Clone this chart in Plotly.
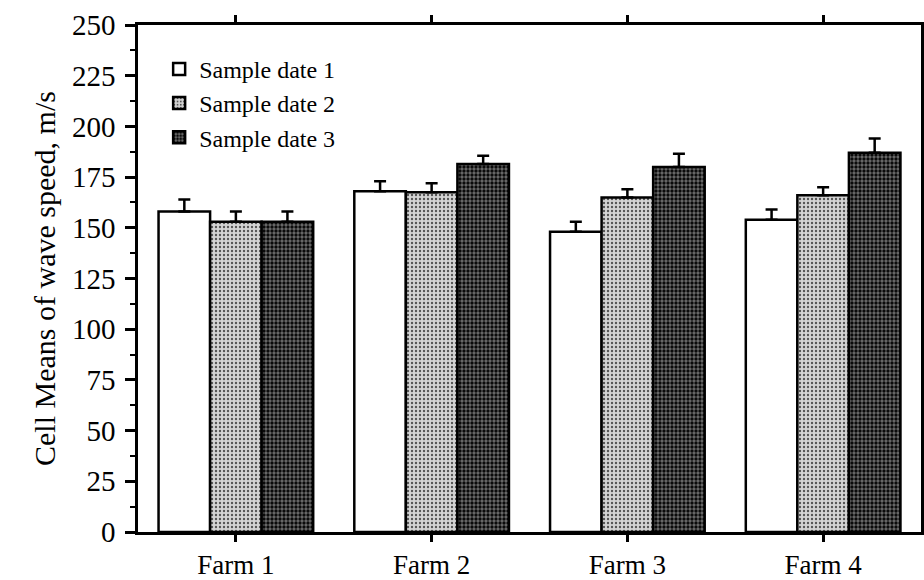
import plotly.graph_objects as go

farms = ["Farm 1", "Farm 2", "Farm 3", "Farm 4"]
series_names = ["Sample date 1", "Sample date 2", "Sample date 3"]
date1 = [158, 168, 148, 154]
date1_err = [6, 5, 5, 5]
date2 = [153, 167.5, 165, 166]
date2_err = [5, 4.5, 4, 4]
date3 = [153, 181.5, 180, 187]
date3_err = [5, 4, 6.5, 7]
y_ticks = [0, 25, 50, 75, 100, 125, 150, 175, 200, 225, 250]
y_title = "Cell Means of wave speed, m/s"

FONT = "Liberation Serif, Times New Roman, serif"

styles = [
    dict(color="white", pattern=None),
    dict(color="#c0c0c0", pattern=dict(shape=".", fgcolor="#555555", bgcolor="#d4d4d4", size=4, solidity=0.28, fillmode="replace")),
    dict(color="#3a3a3a", pattern=dict(shape=".", fgcolor="#0a0a0a", bgcolor="#6e6e6e", size=4, solidity=0.55, fillmode="replace")),
]

fig = go.Figure()
for name, vals, errs, st in zip(series_names, [date1, date2, date3], [date1_err, date2_err, date3_err], styles):
    marker = dict(color=st["color"], line=dict(color="black", width=2.5))
    if st["pattern"] is not None:
        marker["pattern"] = st["pattern"]
    fig.add_trace(go.Bar(
        x=farms, y=vals, name=name, marker=marker,
        error_y=dict(type="data", symmetric=False, array=errs, arrayminus=[0] * len(errs),
                     color="black", thickness=2.5, width=6),
    ))

fig.update_layout(
    width=924, height=580,
    margin=dict(l=138, r=3, t=25, b=48),
    plot_bgcolor="white", paper_bgcolor="white",
    barmode="group", bargap=0.21, bargroupgap=0,
    font=dict(family=FONT, color="black", size=26),
    showlegend=True,
    legend=dict(x=0.027, y=0.957, xanchor="left", yanchor="top",
                bgcolor="rgba(0,0,0,0)", font=dict(size=24, family=FONT),
                tracegroupgap=0, itemwidth=30),
)
fig.update_xaxes(
    automargin=False,
    showline=True, linecolor="black", linewidth=2.5, mirror="ticks",
    ticks="outside", ticklen=7, tickwidth=2.5, tickcolor="black",
    tickfont=dict(size=27, family=FONT), showgrid=False,
)
fig.update_yaxes(
    automargin=False,
    range=[0, 250], tickvals=y_ticks, showline=True, linecolor="black", linewidth=2.5,
    mirror=True, ticks="outside", ticklen=10, tickwidth=2.5, tickcolor="black",
    minor=dict(dtick=12.5, tick0=0, ticks="outside", ticklen=5, tickwidth=2, tickcolor="black", showgrid=False),
    tickfont=dict(size=29, family=FONT), showgrid=False, zeroline=False,
    ticklabelstandoff=4,
    title=dict(text=y_title + "\u00a0" * 7, font=dict(size=30, family=FONT), standoff=8),
)
fig.write_html("out.html", config={"displayModeBar": False},
               post_script="document.body.style.margin='0';document.body.style.overflow='hidden';")
